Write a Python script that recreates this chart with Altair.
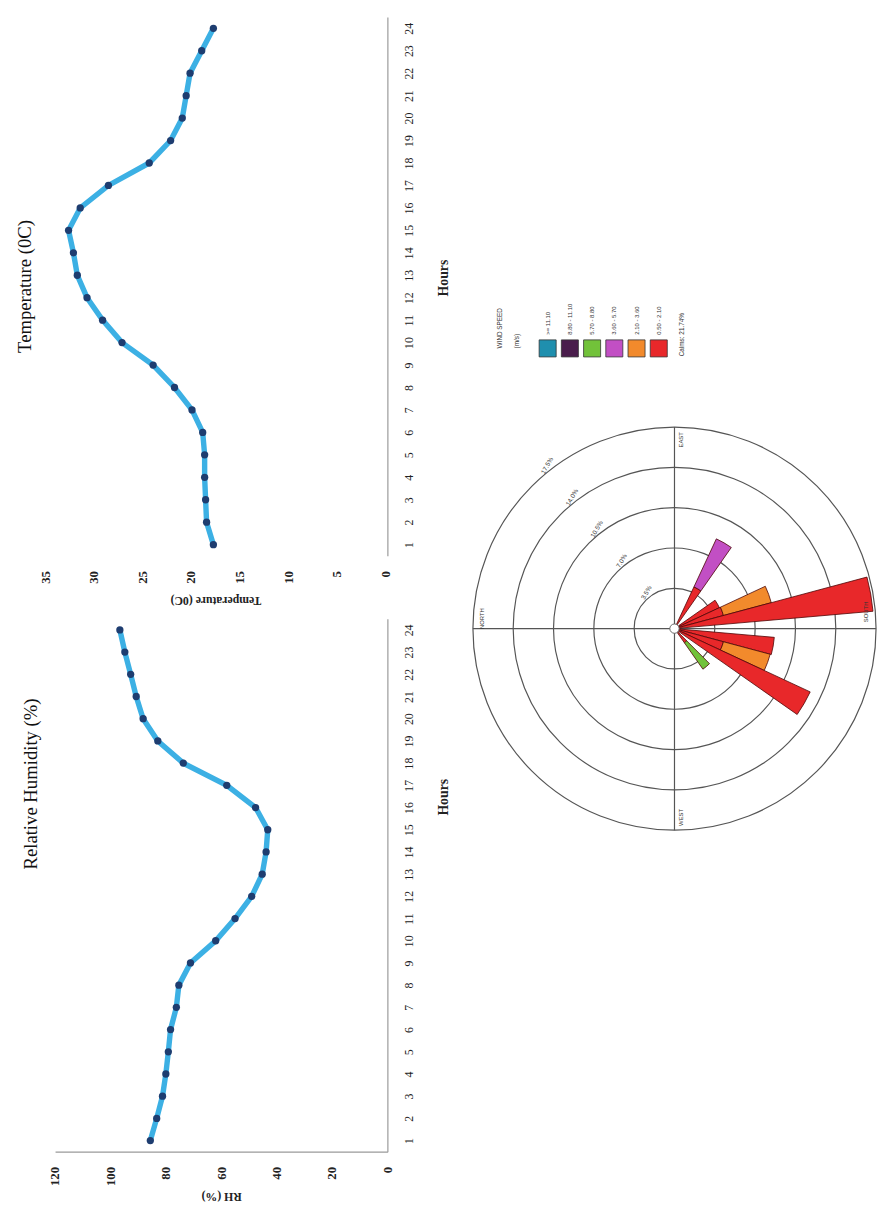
import altair as alt
import pandas as pd

# ---------------- data ----------------
hours = list(range(1, 25))
rh_values = [85.6, 83.3, 81.2, 80.0, 79.1, 78.3, 76.2, 75.3, 71.1, 62.0, 55.0, 49.0,
             45.2, 43.8, 43.2, 47.6, 58.0, 73.7, 82.9, 88.2, 90.7, 92.7, 94.8, 96.6]
temp_values = [17.7, 18.4, 18.5, 18.6, 18.6, 18.8, 19.9, 21.7, 23.9, 27.1, 29.1, 30.7,
               31.7, 32.1, 32.6, 31.4, 28.5, 24.3, 22.1, 20.9, 20.5, 20.1, 18.9, 17.7]
rh_ticks = [0, 20, 40, 60, 80, 100, 120]
temp_ticks = [0, 5, 10, 15, 20, 25, 30, 35]

speed_bins = [">= 11.10", "8.80 - 11.10", "5.70 - 8.80", "3.60 - 5.70", "2.10 - 3.60", "0.50 - 2.10"]
bin_colors = ["#1f8fae", "#4a1d4c", "#72c23a", "#c24fc4", "#f28a2c", "#e8282a"]
stack_order = ["0.50 - 2.10", "2.10 - 3.60", "3.60 - 5.70", "5.70 - 8.80", "8.80 - 11.10", ">= 11.10"]
directions = [120, 150, 160, 170, 190, 200, 210, 230]          # degrees from north
freq_050_210 = [4.0, 4.3, 4.4, 17.3, 8.7, 4.4, 13.0, 1.5]       # % of time
freq_210_360 = [0.0, 0.0, 4.3, 0.0, 0.0, 4.2, 0.0, 0.0]
freq_360_570 = [4.6, 0.0, 0.0, 0.0, 0.0, 0.0, 0.0, 0.0]
freq_570_880 = [0.0, 0.0, 0.0, 0.0, 0.0, 0.0, 0.0, 2.8]
freq_880_1110 = [0.0] * 8
freq_ge_1110 = [0.0] * 8
ring_values = [3.5, 7.0, 10.5, 14.0, 17.5]
ring_labels = ["3.5%", "7.0%", "10.5%", "14.0%", "17.5%"]
compass_names = ["NORTH", "EAST", "SOUTH", "WEST"]
compass_dirs = [0, 90, 180, 270]
calms_text = "Calms: 21.74%"
legend_title = ["WIND SPEED", "(m/s)"]

SERIF = "Liberation Serif"
SANS = "Liberation Sans"

# ---------------- profile charts ----------------
def profile(values, field, dom, ticks, axis_title, title_text, w, h, x_range,
            title_dx, hours_title_y, show_domain, axis_title_pad):
    df = pd.DataFrame({"hour": hours, field: values})
    x = alt.X(f"{field}:Q",
              scale=alt.Scale(domain=dom, range=x_range, nice=False, zero=False),
              axis=alt.Axis(orient="bottom", values=ticks, labelAngle=270, title=axis_title,
                            titleAngle=180, titleBaseline="bottom", ticks=False, grid=False,
                            domain=show_domain, domainColor="#9a9a9a", domainWidth=1.2,
                            labelPadding=15, labelFontSize=13, labelFontWeight="bold",
                            labelColor="#222", titleFontSize=12, titleFontWeight="bold",
                            titleColor="#222", titlePadding=axis_title_pad,
                            labelFont=SERIF, titleFont=SERIF))
    y = alt.Y("hour:Q",
              scale=alt.Scale(domain=[0.5, 24.5], nice=False, zero=False),
              axis=alt.Axis(orient="right", values=hours, labelAngle=270, title="Hours",
                            titleAngle=270, titleBaseline="top", titleY=hours_title_y,
                            ticks=False, grid=False, domainColor="#9a9a9a",
                            domainWidth=1.2, labelFontSize=12, labelColor="#222",
                            labelPadding=17, titleFontSize=14, titleFontWeight="bold",
                            titleColor="#222", titlePadding=22, labelFont=SERIF, titleFont=SERIF))
    base = alt.Chart(df).encode(x=x, y=y, order=alt.Order("hour:Q"))
    line = base.mark_line(color="#3cb0e4", strokeWidth=5.5)
    pts = base.mark_circle(color="#1e3d70", size=55, opacity=1)
    return alt.layer(line, pts).properties(
        width=w, height=h,
        title=alt.TitleParams(title_text, orient="left", anchor="middle", font=SERIF,
                              fontSize=19, fontWeight="normal", color="#111",
                              offset=4, dx=title_dx))

PW = 348
temp_chart = profile(temp_values, "temp", [0, 35], temp_ticks, "Temperature (0C)",
                     "Temperature (0C)", PW, 548, [PW - 2, 0], 0, 265, False, 10)
rh_chart = profile(rh_values, "rh", [0, 120], rh_ticks, "RH (%)",
                   "Relative Humidity (%)", PW, 542, [PW, 10], 103, 181, True, 4)

left_col = alt.vconcat(temp_chart, rh_chart, spacing=13)

# ---------------- wind rose ----------------
RW, RH_ = 424, 1200
CX, CY, R = 228, 622, 205
X = alt.value(CX)
Y = alt.value(CY)
theta_scale = alt.Scale(domain=[0, 360], range=[0, 6.283185307179586])
r_scale = alt.Scale(type="linear", domain=[0, 17.5], range=[0, R], zero=True)

freq_table = {
    "0.50 - 2.10": freq_050_210, "2.10 - 3.60": freq_210_360, "3.60 - 5.70": freq_360_570,
    "5.70 - 8.80": freq_570_880, "8.80 - 11.10": freq_880_1110, ">= 11.10": freq_ge_1110,
}
rows = []
for i, d in enumerate(directions):
    cum = 0.0
    ang = (d - 90) % 360
    for b in stack_order:
        f = freq_table[b][i]
        if f > 0:
            rows.append({"dir": d, "bin": b, "t0": ang - 5, "t1": ang + 5, "r0": cum, "r1": cum + f})
            cum += f
petal_df = pd.DataFrame(rows)

ring_df = pd.DataFrame({"ring": ring_values, "t0": 0, "t1": 360, "r0": 0.0})
cross_df = pd.DataFrame({"t0": [(c - 90) % 360 for c in compass_dirs], "r0": 0.0, "r1": 17.5})
ring_lab_df = pd.DataFrame({"lab": ring_labels, "r": [v + 0.45 for v in ring_values], "t": 322})
comp_offsets = [3, 2, -5, -2]
comp_df = pd.DataFrame({"lab": compass_names,
                        "t": [((c - 90) + o) % 360 for c, o in zip(compass_dirs, comp_offsets)],
                        "r": [16.7, 16.4, 16.7, 16.4]})

color = alt.Color("bin:N", scale=alt.Scale(domain=speed_bins, range=bin_colors), legend=None)

rings = alt.Chart(ring_df).mark_arc(fill="white", fillOpacity=0, stroke="#555", strokeWidth=1.2).encode(
    theta=alt.Theta("t0:Q", scale=theta_scale, stack=None), theta2="t1:Q",
    radius=alt.Radius("r0:Q", scale=r_scale, stack=None), radius2="ring:Q", x=X, y=Y)
cross = alt.Chart(cross_df).mark_arc(fill="white", fillOpacity=0, stroke="#555", strokeWidth=1.2).encode(
    theta=alt.Theta("t0:Q", scale=theta_scale, stack=None), theta2="t0:Q",
    radius=alt.Radius("r0:Q", scale=r_scale, stack=None), radius2="r1:Q", x=X, y=Y)
petals = alt.Chart(petal_df).mark_arc(stroke="#4d0505", strokeWidth=0.8, opacity=1).encode(
    theta=alt.Theta("t0:Q", scale=theta_scale, stack=None), theta2="t1:Q",
    radius=alt.Radius("r0:Q", scale=r_scale, stack=None), radius2="r1:Q",
    color=color, x=X, y=Y)
center = alt.Chart(pd.DataFrame({"c": [0]})).mark_point(
    shape="circle", size=90, filled=True, fill="white", stroke="#666", strokeWidth=1, opacity=1
).encode(x=X, y=Y)
ring_text = alt.Chart(ring_lab_df).mark_text(angle=300, fontSize=6.5, font=SANS, color="#333").encode(
    theta=alt.Theta("t:Q", scale=theta_scale, stack=None),
    radius=alt.Radius("r:Q", scale=r_scale, stack=None), text="lab:N", x=X, y=Y)
comp_text = alt.Chart(comp_df).mark_text(angle=270, fontSize=6, font=SANS, color="#333").encode(
    theta=alt.Theta("t:Q", scale=theta_scale, stack=None),
    radius=alt.Radius("r:Q", scale=r_scale, stack=None), text="lab:N", x=X, y=Y)

LY = 337
leg_df = pd.DataFrame({"bin": speed_bins})
leg_x = alt.X("bin:N", scale=alt.Scale(type="point", domain=speed_bins,
                                        range=[CX - 129, CX - 16], padding=0), axis=None)
leg_sq = alt.Chart(leg_df).mark_square(size=300, stroke="#333", strokeWidth=0.8, opacity=1).encode(
    x=leg_x, y=alt.value(LY), color=color)
leg_lab = alt.Chart(leg_df).mark_text(angle=270, align="left", baseline="middle", fontSize=6,
                                      font=SANS, color="#333").encode(
    x=leg_x, y=alt.value(LY - 14), text="bin:N")
leg_title = alt.Chart(pd.DataFrame({"t": legend_title, "i": [0, 1]})).mark_text(
    angle=270, align="left", baseline="middle", fontSize=6.5, font=SANS, color="#333").encode(
    x=alt.X("i:O", scale=alt.Scale(type="point", domain=[0, 1], range=[CX - 177, CX - 160], padding=0),
            axis=None),
    y=alt.value(LY), text="t:N")
calm = alt.Chart(pd.DataFrame({"t": [calms_text]})).mark_text(
    angle=270, align="left", baseline="middle", fontSize=6.5, font=SANS, color="#333").encode(
    x=alt.value(CX + 8), y=alt.value(LY + 8), text="t:N")

rose = alt.layer(rings, cross, petals, center, ring_text, comp_text, leg_sq, leg_lab, leg_title, calm
                 ).resolve_scale(x="independent").properties(width=RW, height=RH_)

chart = alt.hconcat(left_col, rose, spacing=0).properties(
    padding={"left": 16, "top": 7, "right": 0, "bottom": 0}, background="white"
).configure_view(strokeWidth=0)

chart.save("out.html", embed_options={"renderer": "svg", "actions": False})
